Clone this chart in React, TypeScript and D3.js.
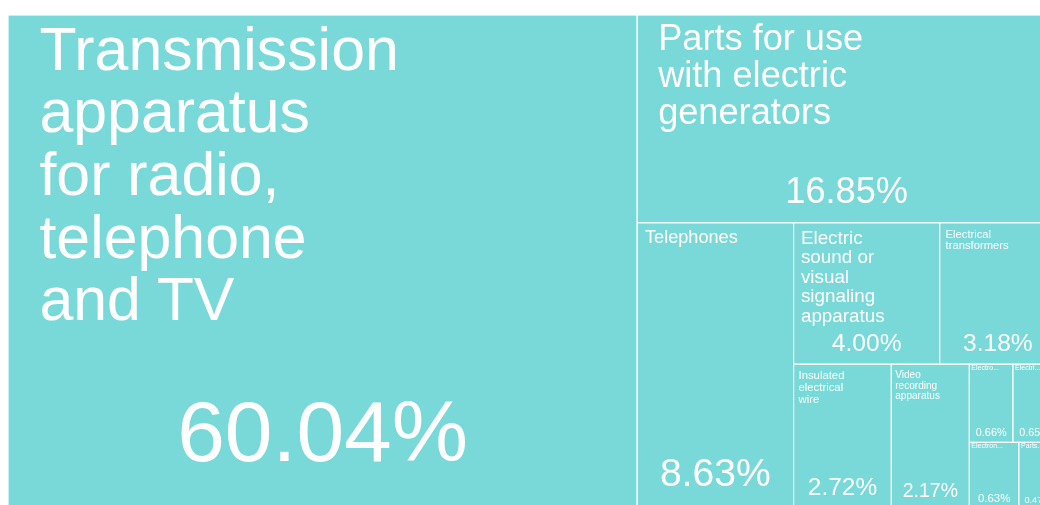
import React from "react";
import * as d3 from "d3";

const names: string[] = [
  "Transmission apparatus for radio, telephone and TV",
  "Parts for use with electric generators",
  "Telephones",
  "Electric sound or visual signaling apparatus",
  "Electrical transformers",
  "Insulated electrical wire",
  "Video recording apparatus",
  "Electromagnets",
  "Electric heaters",
  "Electronic integrated circuits",
  "Parts for electrical switches",
];
const shares: number[] = [60.04, 16.85, 8.63, 4.0, 3.18, 2.72, 2.17, 0.66, 0.65, 0.63, 0.47];

const W = 1048;
const H = 493;
const FILL = "#79d9d9";
const FONT = "'Liberation Sans', Arial, Helvetica, sans-serif";

function wrap(text: string, maxChars: number): string[] {
  const words = text.split(" ");
  const lines: string[] = [];
  let cur = "";
  for (const w of words) {
    if (!cur) cur = w;
    else if ((cur + " " + w).length <= maxChars) cur += " " + w;
    else {
      lines.push(cur);
      cur = w;
    }
  }
  if (cur) lines.push(cur);
  return lines;
}

export default function App() {
  const data = names.map((n, i) => ({ name: n, value: shares[i] }));
  const root = d3
    .hierarchy<any>({ name: "root", children: data })
    .sum((d: any) => d.value || 0)
    .sort((a, b) => (b.value || 0) - (a.value || 0));
  d3.treemap<any>().tile(d3.treemapSquarify.ratio(1)).size([W, H]).round(false)(root);
  const leaves = root.leaves() as d3.HierarchyRectangularNode<any>[];

  return (
    <div style={{ width: 1024, height: 489 }}>
      <style>{`html{overflow:hidden;}`}</style>
      <svg
        width={W}
        height={H + 7}
        style={{ display: "block", position: "fixed", left: 8, top: 8, overflow: "visible" }}
      >
        <g transform="translate(0,7)">
          {leaves.map((l, i) => {
            const w = l.x1 - l.x0;
            const h = l.y1 - l.y0;
            const name: string = l.data.name;
            const longest = Math.max(...name.split(" ").map((s) => s.length));
            let fs = Math.min((1.16 * w) / longest, 0.174 * h);
            let lines: string[];
            let small = false;
            if (fs < 7) {
              small = true;
              fs = 7;
              const maxC = Math.floor(w / 6);
              lines = [name.slice(0, maxC).trim() + "..."];
            } else {
              const maxC = Math.floor((w * 1.16) / fs + 0.01);
              lines = wrap(name, maxC);
            }
            const pfs = Math.min(0.25 * w, 0.174 * h);
            const lx = small ? l.x0 + 2 : l.x0 + 0.05 * w;
            const ly = small ? l.y0 + 6 : l.y0 + 6 + 0.8 * fs;
            return (
              <g key={i}>
                <rect x={l.x0} y={l.y0} width={w} height={h} fill={FILL} stroke="#fff" strokeWidth={1.2} />
                <text x={lx} y={ly} fill="#fff" fontFamily={FONT} fontSize={fs}>
                  {lines.map((ln, j) => (
                    <tspan key={j} x={lx} dy={j === 0 ? 0 : fs * 1.03}>
                      {ln}
                    </tspan>
                  ))}
                </text>
                <text
                  x={(l.x0 + l.x1) / 2}
                  y={l.y1 - 0.55 * pfs}
                  fill="#fff"
                  fontFamily={FONT}
                  fontSize={pfs}
                  textAnchor="middle"
                >
                  {`${(l.value as number).toFixed(2)}%`}
                </text>
              </g>
            );
          })}
        </g>
      </svg>
    </div>
  );
}
